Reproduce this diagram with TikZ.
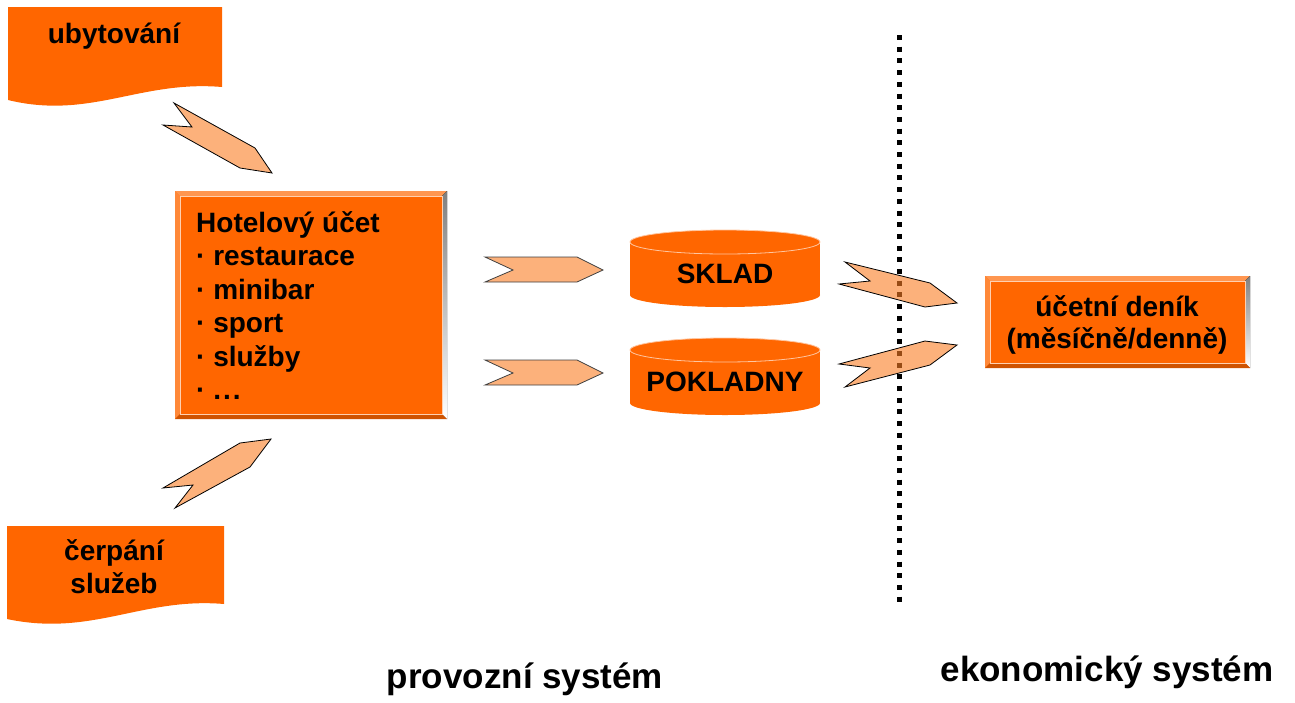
\documentclass[tikz,border=0pt]{standalone}
\usepackage{fontspec}
\setmainfont{Liberation Sans}
\definecolor{hotel}{RGB}{255,102,0}
\definecolor{hilite}{RGB}{255,150,80}
\definecolor{shade}{RGB}{168,68,0}
\definecolor{flowfill}{RGB}{250,125,35}
% raised box: x1, y1, x2, y2
\newcommand\bevelbox[4]{%
  \fill[hotel] (#1,#2) rectangle (#3,#4);
  \fill[hilite] (#1,#2) -- (#3,#2) -- ({#3-5},{#2+5}) -- ({#1+5},{#2+5}) -- cycle;
  \fill[hilite!70!hotel] (#1,#2) -- ({#1+5},{#2+5}) -- ({#1+5},{#4-5}) -- (#1,#4) -- cycle;
  \fill[shade] (#3,#2) -- (#3,#4) -- ({#3-5},{#4-5}) -- ({#3-5},{#2+5}) -- cycle;
  \fill[shade!55!hotel] (#1,#4) -- (#3,#4) -- ({#3-5},{#4-5}) -- ({#1+5},{#4-5}) -- cycle;
  \draw[white!55!hilite, line width=0.8pt] ({#1+5},{#2+5}) rectangle ({#3-5},{#4-5});
}

\begin{document}
\begin{tikzpicture}[x=1pt, y=-1pt,
    every node/.style={font=\fontsize{28}{33.5}\selectfont\bfseries, inner sep=0pt},
    flow/.style={fill=flowfill, fill opacity=0.6, draw=black, line width=0.8pt},
    sysname/.style={font=\fontsize{35}{40}\selectfont\bfseries}]
  \useasboundingbox (0,0) rectangle (1295,702);
  % boundary between the two systems
  \draw[line width=5pt, dash pattern=on 5pt off 6.7pt] (899,35) -- (899,602);

  % documents
  \fill[hotel] (8,7) -- (222,7) -- (222,87) .. controls (140,80) and (90,120) .. (8,100) -- cycle;
  \fill[hotel] (7,526) -- (224,526) -- (224,604) .. controls (142,597) and (92,637) .. (7,619) -- cycle;
  \node[anchor=base] (ubyt) at (114,43) {ubytování};
  \node[anchor=base] (cerp) at (114,560) {čerpání};
  \node[anchor=base] (sluz) at (114,593) {služeb};

  % hotel account
  \bevelbox{175}{191}{447}{419}
  \node[anchor=base west] (ucet) at (196,232) {Hotelový účet};
  \foreach \t [count=\i] in {restaurace, minibar, sport, služby, .\kern2pt.\kern2pt.}
    \node[anchor=base west] (item\i) at (196,{232+33.5*\i}) {· \t};

  % stores
  \foreach \y/\name/\txt in {242/sklad/SKLAD, 350/pokl/POKLADNY} {
    \fill[hotel] (725,\y+53) ellipse[x radius=95, y radius=12];
    \fill[hotel] (630,\y) rectangle (820,\y+53);
    \filldraw[fill=hotel, draw=white!45!hilite, line width=0.8pt] (725,\y) ellipse[x radius=95, y radius=12];
    \node (\name) at (725,\y+32) {\txt};
  }

  % journal
  \bevelbox{985}{276}{1250}{368}
  \node[anchor=base] (denik) at (1117,316) {účetní deník};
  \node[anchor=base] (obdobi) at (1117,348) {(měsíčně/denně)};

  % flows
  \draw[flow] (174,103) -- (192,127) -- (163,125) -- (240,168) -- (272,173) -- (255,148) -- cycle;
  \draw[flow] (163,488) -- (193,485) -- (175,508) -- (250,467) -- (271,439) -- (240,443) -- cycle;
  \foreach \y in {257,360}
    \draw[flow, draw=black!75] (485,\y) -- (513,\y+13) -- (485,\y+25) -- (577,\y+25) -- (603,\y+13) -- (577,\y) -- cycle;
  \draw[flow] (845,262) -- (870,281) -- (839,284) -- (925,307) -- (957,303) -- (930,283) -- cycle;
  \draw[flow] (839,364) -- (870,368) -- (845,387) -- (930,365) -- (957,345) -- (925,341) -- cycle;

  \node[sysname, anchor=base] (prov) at (525,688) {provozní systém};
  \node[sysname, anchor=base] (ekon) at (1107,681) {ekonomický systém};
\end{tikzpicture}
\end{document}
